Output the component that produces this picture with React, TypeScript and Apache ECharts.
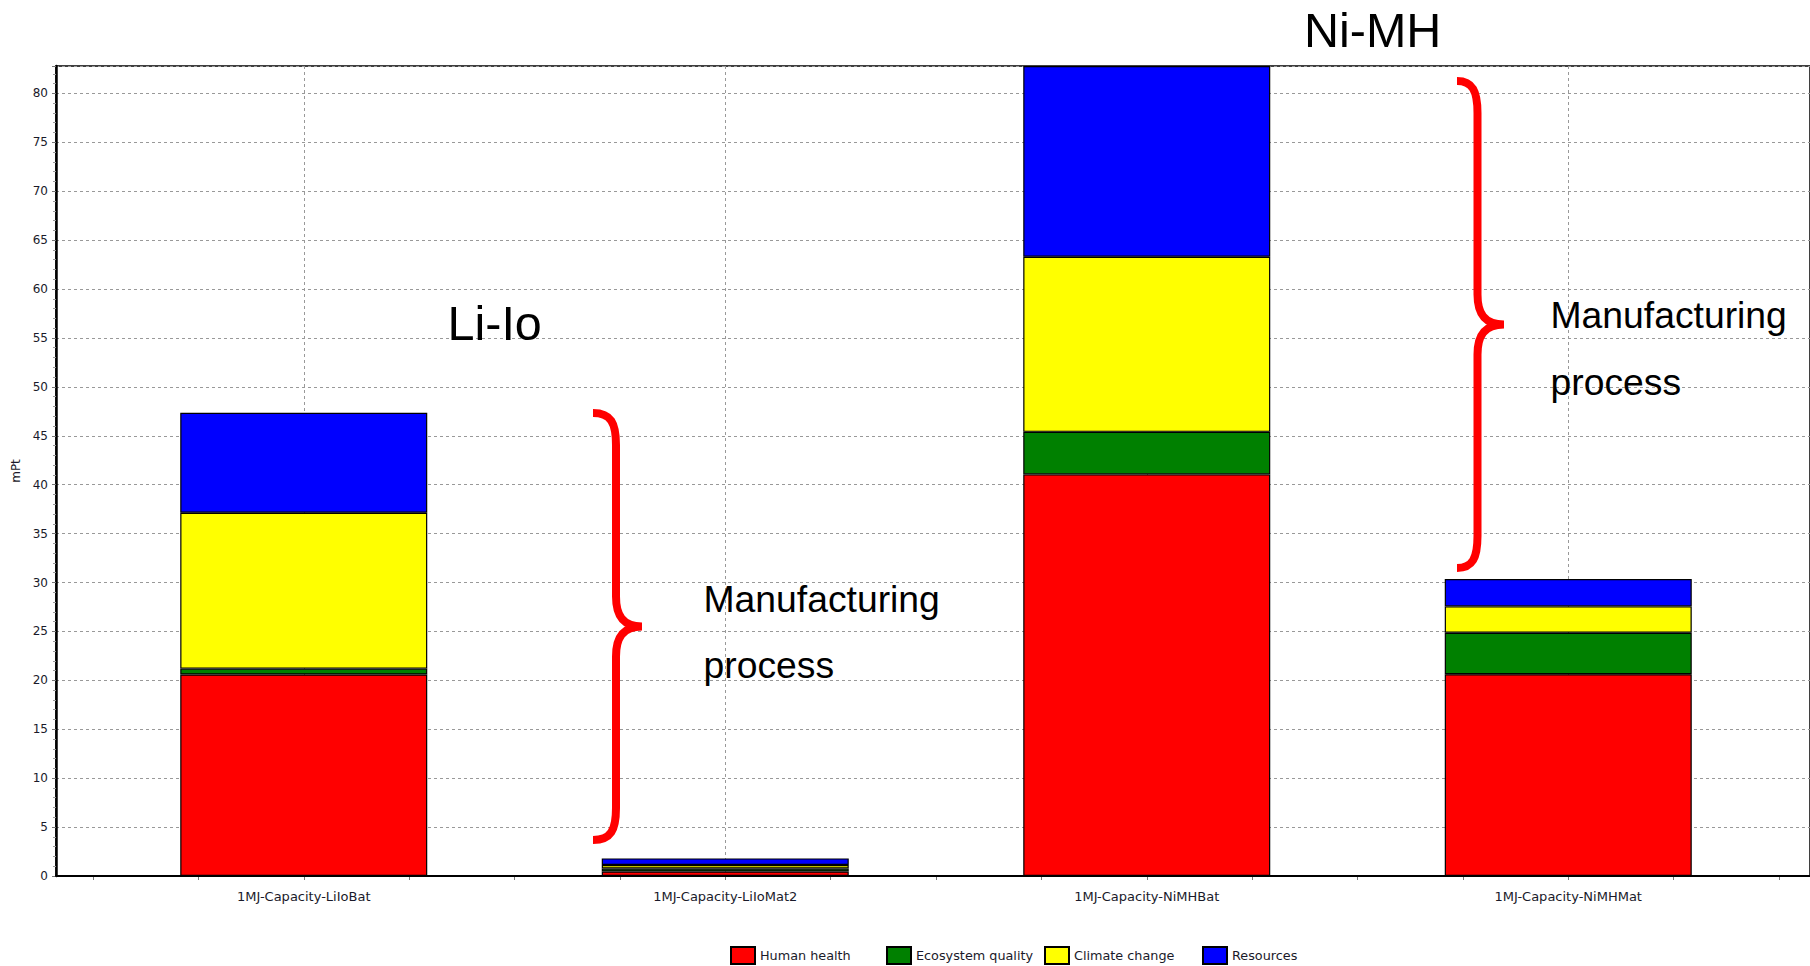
import React, { useEffect, useRef } from "react";
import * as echarts from "echarts";

// ---- data ----
const categories = [
  "1MJ-Capacity-LiIoBat",
  "1MJ-Capacity-LiIoMat2",
  "1MJ-Capacity-NiMHBat",
  "1MJ-Capacity-NiMHMat",
];
const seriesNames = ["Human health", "Ecosystem quality", "Climate change", "Resources"];
const humanHealth = [20.6, 0.46, 41.05, 20.63];
const ecosystemQuality = [0.6, 0.3, 4.35, 4.24];
const climateChange = [15.93, 0.36, 17.9, 2.69];
const resources = [10.22, 0.68, 19.5, 2.8];
const seriesValues = [humanHealth, ecosystemQuality, climateChange, resources];
const seriesColors = ["#ff0000", "#008000", "#ffff00", "#0000ff"];
const yMin = 0;
const yMax = 82.8;
const yStep = 5;
const yAxisName = "mPt";

const groupLabels = ["Li-Io", "Ni-MH"];
const noteLines = ["Manufacturing", "process"];

// ---- layout ----
const W = 1810;
const H = 966;
const plotTop = 66;
const plotBottom = 876;
const frameLeft = 56;
const bandLeft = 93;
const bandWidth = 421.5;
const legendLefts = [730, 886, 1044, 1202];
const axisFont = '"DejaVu Sans", Verdana, sans-serif';
const annoFont = '"Liberation Sans", Arial, sans-serif';

function bracePath(x0: number, xs: number, xt: number, top: number, bottom: number) {
  const mid = (top + bottom) / 2;
  const r = 32;
  const r2 = 30;
  return (
    `M${x0},${top} C${xs - 5},${top} ${xs},${top + 10} ${xs},${top + r} ` +
    `L${xs},${mid - r2} C${xs},${mid - 12} ${xs + 6},${mid} ${xt},${mid} ` +
    `C${xs + 6},${mid} ${xs},${mid + 12} ${xs},${mid + r2} ` +
    `L${xs},${bottom - r} C${xs},${bottom - 10} ${xs - 5},${bottom} ${x0},${bottom}`
  );
}

echarts.graphic.registerShape("braceL", echarts.graphic.extendPath(bracePath(593, 616, 642, 413, 840), {}) as any);
echarts.graphic.registerShape("braceR", echarts.graphic.extendPath(bracePath(1457, 1477.5, 1504, 81, 568), {}) as any);

export default function App() {
  const ref = useRef<HTMLDivElement>(null);

  useEffect(() => {
    if (!ref.current) return;
    const chart = echarts.init(ref.current, null, { renderer: "svg" });

    const gridHeight = plotBottom - plotTop;
    const noteFont = `37.3px ${annoFont}`;
    const titleFont = `48.5px ${annoFont}`;

    const option: any = {
      animation: false,
      backgroundColor: "#ffffff",
      grid: [
        { left: bandLeft, top: plotTop, width: bandWidth * categories.length, height: gridHeight, containLabel: false },
        {
          left: frameLeft,
          top: plotTop,
          right: -40,
          height: gridHeight,
          show: true,
          borderColor: "#000",
          borderWidth: 1.5,
          backgroundColor: "transparent",
          containLabel: false,
        },
      ],
      xAxis: [
        {
          type: "category",
          gridIndex: 0,
          position: "bottom",
          data: categories,
          boundaryGap: true,
          axisLine: { show: false },
          axisTick: { show: false },
          axisLabel: { fontSize: 13, fontFamily: axisFont, color: "#1a1a2a", margin: 14 },
          splitLine: { show: true, alignWithLabel: true, lineStyle: { color: "#999", type: [3, 3], width: 1 } },
        },
        {
          type: "value",
          gridIndex: 0,
          position: "bottom",
          min: 0,
          max: categories.length * 4,
          interval: 1,
          axisLine: { show: false },
          axisTick: { show: true, length: 4, lineStyle: { color: "#777", width: 1 } },
          axisLabel: { show: false },
          splitLine: { show: false },
        },
        {
          type: "value",
          gridIndex: 1,
          position: "bottom",
          min: 0,
          max: 1,
          z: 5,
          axisLine: { show: true, lineStyle: { color: "#000", width: 2 } },
          axisTick: { show: false },
          axisLabel: { show: false },
          splitLine: { show: false },
        },
      ],
      yAxis: [
        { type: "value", gridIndex: 0, min: yMin, max: yMax, show: false, splitLine: { show: false } },
        {
          type: "value",
          gridIndex: 1,
          position: "left",
          min: yMin,
          max: yMax,
          interval: yStep,
          name: yAxisName,
          nameLocation: "middle",
          nameRotate: 90,
          nameGap: 23,
          nameTextStyle: { fontSize: 12, fontFamily: axisFont, color: "#1a1a2a" },
          axisLine: { show: true, lineStyle: { color: "#000", width: 2.5 } },
          axisTick: { show: true, inside: false, length: 4, lineStyle: { color: "#777" } },
          minorTick: { show: true, splitNumber: 5, length: 3, lineStyle: { color: "#999" } },
          axisLabel: {
            fontSize: 12,
            fontFamily: axisFont,
            color: "#1a1a2a",
            margin: 8,
            showMaxLabel: false,
            formatter: (v: number) => (Math.abs(v / yStep - Math.round(v / yStep)) < 1e-6 ? String(v) : ""),
          },
          splitLine: { show: true, lineStyle: { color: "#999", type: [3, 3], width: 1 } },
        },
      ],
      legend: seriesNames.map((name, i) => ({
        data: [name],
        left: legendLefts[i],
        top: 946,
        itemWidth: 24,
        itemHeight: 17,
        itemGap: 0,
        icon: "rect",
        selectedMode: false,
        padding: 0,
        textStyle: { fontSize: 12.8, fontFamily: axisFont, color: "#1a1a2a" },
      })),
      series: seriesNames.map((name, i) => ({
        name,
        type: "bar",
        stack: "total",
        xAxisIndex: 0,
        yAxisIndex: 0,
        barWidth: 247,
        data: seriesValues[i],
        itemStyle: { color: seriesColors[i], borderColor: "#000", borderWidth: 1.2 },
        emphasis: { disabled: true },
      })),
      graphic: [
        { type: "braceL", x: 0, y: 0, z: 20, style: { stroke: "#ff0000", lineWidth: 8, fill: null } },
        { type: "braceR", x: 0, y: 0, z: 20, style: { stroke: "#ff0000", lineWidth: 8, fill: null } },
        {
          type: "text",
          z: 20,
          style: { text: groupLabels[0], x: 447.5, y: 323.2, font: titleFont, fill: "#000", verticalAlign: "middle" },
        },
        {
          type: "text",
          z: 20,
          style: { text: groupLabels[1], x: 1304, y: 29.9, font: titleFont, fill: "#000", verticalAlign: "middle" },
        },
        {
          type: "text",
          z: 20,
          style: { text: noteLines[0], x: 703.5, y: 598.8, font: noteFont, fill: "#000", verticalAlign: "middle" },
        },
        {
          type: "text",
          z: 20,
          style: { text: noteLines[1], x: 703.5, y: 665.4, font: noteFont, fill: "#000", verticalAlign: "middle" },
        },
        {
          type: "text",
          z: 20,
          style: { text: noteLines[0], x: 1550.5, y: 315.4, font: noteFont, fill: "#000", verticalAlign: "middle" },
        },
        {
          type: "text",
          z: 20,
          style: { text: noteLines[1], x: 1550.5, y: 382.1, font: noteFont, fill: "#000", verticalAlign: "middle" },
        },
      ],
    };

    chart.setOption(option);
    return () => chart.dispose();
  }, []);

  return (
    <div
      ref={ref}
      style={{ position: "absolute", left: 0, top: 0, width: W, height: H, background: "#fff" }}
    />
  );
}
